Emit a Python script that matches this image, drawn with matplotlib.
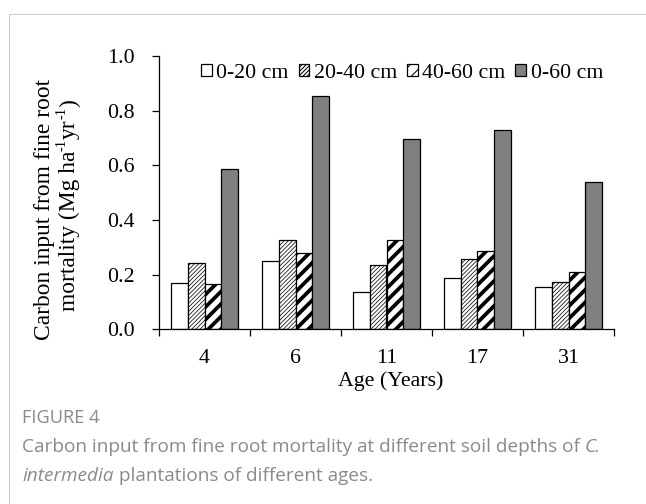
import matplotlib
matplotlib.use("Agg")
import matplotlib.pyplot as plt
from matplotlib.lines import Line2D
import numpy as np

ages = ["4", "6", "11", "17", "31"]
series_names = ["0-20 cm", "20-40 cm", "40-60 cm", "0-60 cm"]
depth_0_20 = [0.170, 0.249, 0.136, 0.188, 0.156]
depth_20_40 = [0.243, 0.327, 0.236, 0.257, 0.173]
depth_40_60 = [0.165, 0.279, 0.327, 0.287, 0.208]
depth_0_60 = [0.585, 0.852, 0.697, 0.728, 0.539]
y_ticks = [0.0, 0.2, 0.4, 0.6, 0.8, 1.0]

DPI = 75
W, H = 646, 504
fig = plt.figure(figsize=(W / DPI, H / DPI), dpi=DPI)
serif = ["Liberation Serif", "DejaVu Serif"]
sans = ["Open Sans", "DejaVu Sans"]
FS = 21

def fx(px):
    return px / W

def fy(py):
    return 1 - py / H

ax = fig.add_axes([fx(159), fy(329.3), fx(614) - fx(159), fy(55.8) - fy(329.3)])

x = np.arange(len(ages))
w = 0.186
styles = [
    dict(facecolor="white", hatch=None, hlw=1.0),
    dict(facecolor="white", hatch="//////", hlw=0.7),
    dict(facecolor="white", hatch="//", hlw=3.6),
    dict(facecolor="#808080", hatch=None, hlw=1.0),
]
data = [depth_0_20, depth_20_40, depth_40_60, depth_0_60]
handles = []
for i, (vals, st) in enumerate(zip(data, styles)):
    plt.rcParams["hatch.linewidth"] = st["hlw"]
    bars = ax.bar(x + (i - 1.5) * w, vals, width=w, facecolor=st["facecolor"],
                  edgecolor="black", linewidth=1.2, hatch=st["hatch"],
                  label=series_names[i], zorder=2)
    for b in bars:
        if hasattr(b, "set_hatch_linewidth"):
            b.set_hatch_linewidth(st["hlw"])
    handles.append(bars)

ax.set_xlim(-0.5, len(ages) - 0.5)
ax.set_ylim(0, 1.0)
ax.set_yticks(y_ticks)
ax.set_yticklabels([f"{t:.1f}" for t in y_ticks], fontfamily=serif, fontsize=FS)
ax.set_xticks(np.arange(-0.5, len(ages), 1.0))
ax.set_xticklabels([])
ax.set_xticks(x, minor=True)
ax.set_xticklabels(ages, minor=True, fontfamily=serif, fontsize=FS)
ax.tick_params(axis="x", which="major", direction="out", length=7, width=1.2)
ax.tick_params(axis="x", which="minor", length=0, pad=19)
ax.tick_params(axis="y", direction="out", length=7, width=1.2, pad=16)
for s in ["top", "right"]:
    ax.spines[s].set_visible(False)
for s in ["left", "bottom"]:
    ax.spines[s].set_linewidth(1.2)

fig.text(fx(391), fy(381), "Age (Years)", fontfamily=serif, fontsize=FS,
         ha="center", va="center")

leg = fig.legend(handles=handles, labels=series_names, loc="center",
                 bbox_to_anchor=(fx(402), fy(73)), ncol=4, frameon=False,
                 prop={"family": serif, "size": FS},
                 handlelength=0.5, handleheight=0.5, handletextpad=0.2,
                 columnspacing=0.45, borderpad=0, borderaxespad=0)

# Border of the figure panel
fig.add_artist(Line2D([fx(9), fx(9)], [fy(14), 0], color="#cccccc", lw=1.0))
fig.add_artist(Line2D([fx(9), 1], [fy(14), fy(14)], color="#cccccc", lw=1.0))

fig.canvas.draw()
renderer = fig.canvas.get_renderer()

# Y-axis label (two lines, rotated)
YL_FS = 22.5
fig.text(fx(45), fy(209), "Carbon input from fine root", fontfamily=serif,
         fontsize=YL_FS, rotation=90, ha="center", va="center")
pieces = [("mortality (Mg ha", 1.0, 0.0), ("-1", 0.62, 0.42), ("yr", 1.0, 0.0),
          ("-1", 0.62, 0.42), (")", 1.0, 0.0)]
em_px = YL_FS * DPI / 72.0
txts = []
total = 0.0
for s, scale, rise in pieces:
    t = fig.text(0, 0, s, fontfamily=serif, fontsize=YL_FS * scale, rotation=90,
                 rotation_mode="anchor", ha="left", va="baseline")
    ext = t.get_window_extent(renderer)
    txts.append((t, ext.height, rise))
    total += ext.height
base_x = 75.0
cur = (H - 205) - total / 2.0
for t, length, rise in txts:
    t.set_position(((base_x - rise * em_px) / W, cur / H))
    cur += length

# Caption
cap_color = "#8a8a8a"
cap_fs = 18.2
fig.text(fx(22), fy(418), "FIGURE 4", fontfamily=sans, fontsize=17.5,
         color=cap_color, ha="left", va="center")
t1 = fig.text(fx(22), fy(447),
              "Carbon input from fine root mortality at different soil depths of ",
              fontfamily=sans, fontsize=cap_fs, color=cap_color, ha="left", va="center")
bb = t1.get_window_extent(renderer)
fig.text(bb.x1 / W, fy(447), "C.", fontfamily=sans, fontsize=cap_fs, style="italic",
         color=cap_color, ha="left", va="center")
t2 = fig.text(fx(22), fy(476), "intermedia", fontfamily=sans, fontsize=cap_fs,
              style="italic", color=cap_color, ha="left", va="center")
bb2 = t2.get_window_extent(renderer)
fig.text(bb2.x1 / W, fy(476), " plantations of different ages.", fontfamily=sans,
         fontsize=cap_fs, color=cap_color, ha="left", va="center")

fig.savefig("out.png", dpi=DPI)
